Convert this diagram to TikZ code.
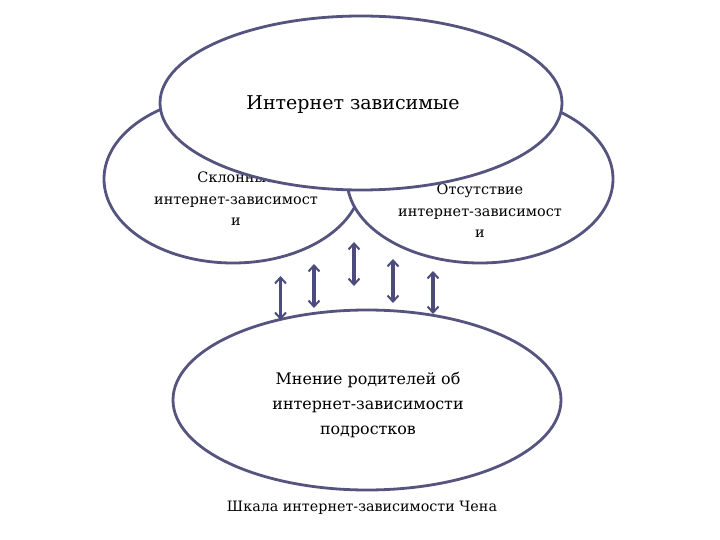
\documentclass[tikz,border=0pt]{standalone}
\usepackage{fontspec}
\setmainfont{DejaVu Serif}
\usetikzlibrary{arrows.meta,shapes.geometric}
\definecolor{edge}{HTML}{55547F}
\definecolor{arr}{HTML}{4C4B7C}
\tikzset{
  oval/.style={draw=edge, line width=2.8pt, fill=white, ellipse, inner sep=0pt},
  lbl/.style={align=center, text=black, inner sep=0pt},
  darr/.style={draw=arr, line width=3.2pt, {Straight Barb[length=6pt,width=11pt,line width=2pt]}-{Straight Barb[length=6pt,width=11pt,line width=2pt]}}
}
\begin{document}
\begin{tikzpicture}[x=1pt,y=-1pt]
\useasboundingbox (0,0) rectangle (720,540);
\fill[white] (0,0) rectangle (720,540);
% side ellipses
\node[oval, minimum width=258pt, minimum height=168pt] (eleft) at (233,179) {};
\node[oval, minimum width=266pt, minimum height=168pt] (eright) at (480,179) {};
\node[lbl, font=\fontsize{14.4}{21.5}\selectfont] (left) at (236,199) {Склонные\\интернет-зависимост\\и};
\node[lbl, font=\fontsize{14.4}{21.5}\selectfont] (right) at (480,211) {Отсутствие\\интернет-зависимост\\и};
% top ellipse
\node[oval, minimum width=402pt, minimum height=174pt] (etop) at (361,103) {};
\node[lbl, font=\fontsize{19}{24}\selectfont] (top) at (353,105) {Интернет зависимые};
% bottom ellipse
\node[oval, minimum width=388pt, minimum height=180pt] (ebottom) at (367,400) {};
\node[lbl, font=\fontsize{15.9}{25}\selectfont] (bottom) at (368,405) {Мнение родителей об\\интернет-зависимости\\подростков};
% caption
\node[lbl, font=\fontsize{14.3}{17}\selectfont] (cap) at (362,508) {Шкала интернет-зависимости Чена};
% arrows
\coordinate (a1t) at (280.5,276); \coordinate (a1b) at (280.5,320);
\coordinate (a2t) at (314,264); \coordinate (a2b) at (314,308);
\coordinate (a3t) at (354,242); \coordinate (a3b) at (354,286);
\coordinate (a4t) at (393,259); \coordinate (a4b) at (393,303);
\coordinate (a5t) at (433,271); \coordinate (a5b) at (433,314);
\foreach \i in {1,...,5} {\draw[darr] (a\i t) -- (a\i b);}
\end{tikzpicture}
\end{document}
